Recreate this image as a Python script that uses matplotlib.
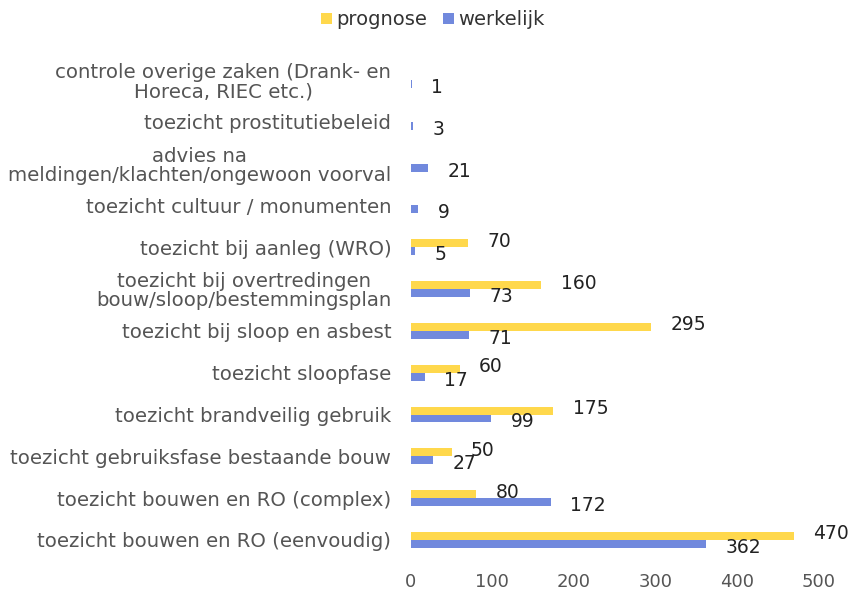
import matplotlib.pyplot as plt
import numpy as np

plt.rcParams["font.family"] = ["DejaVu Sans"]

categories = [
    "controle overige zaken (Drank- en\nHoreca, RIEC etc.)",
    "toezicht prostitutiebeleid",
    "advies na\nmeldingen/klachten/ongewoon voorval",
    "toezicht cultuur / monumenten",
    "toezicht bij aanleg (WRO)",
    "toezicht bij overtredingen\nbouw/sloop/bestemmingsplan",
    "toezicht bij sloop en asbest",
    "toezicht sloopfase",
    "toezicht brandveilig gebruik",
    "toezicht gebruiksfase bestaande bouw",
    "toezicht bouwen en RO (complex)",
    "toezicht bouwen en RO (eenvoudig)",
]
prognose = [0, 0, 0, 0, 70, 160, 295, 60, 175, 50, 80, 470]
werkelijk = [1, 3, 21, 9, 5, 73, 71, 17, 99, 27, 172, 362]

yellow = "#FFD84C"
blue = "#7189DD"

fig = plt.figure(figsize=(8.54, 5.91), dpi=100)
ax = fig.add_axes([0.481, 0.051, 0.477, 0.849])

y = np.arange(len(categories))
h = 0.19
b1 = ax.barh(y - h / 2, prognose, height=h, color=yellow, label="prognose")
b2 = ax.barh(y + h / 2, werkelijk, height=h, color=blue, label="werkelijk")

# prognose labels sit a little higher, werkelijk labels a little lower
for bars, vals, dy in ((b1, prognose, 1.5), (b2, werkelijk, -2.5)):
    for bar, v in zip(bars, vals):
        if v == 0:
            continue
        ax.annotate(str(v), (bar.get_width(), bar.get_y() + bar.get_height() / 2),
                    xytext=(14, dy), textcoords="offset points", va="center",
                    ha="left", fontsize=13.5, color="#222222")

ax.set_ylim(len(categories) - 0.5, -0.5)
ax.set_xlim(0, 500)
ax.set_xticks(range(0, 501, 100))
ax.set_yticks(y)
ax.set_yticklabels(categories, multialignment="center", linespacing=1.0)
ax.tick_params(axis="y", length=0, pad=14, labelsize=14.2, labelcolor="#555555")
ax.tick_params(axis="x", length=0, pad=9, labelsize=13, labelcolor="#555555")
for s in ax.spines.values():
    s.set_visible(False)

fig.legend(handles=[b1, b2], loc="upper center", bbox_to_anchor=(0.507, 1.012),
           ncol=2, frameon=False, fontsize=14, handlelength=0.55, handleheight=0.55,
           columnspacing=0.8, handletextpad=0.25, labelcolor="#333333")

fig.savefig("out.png", dpi=100)
